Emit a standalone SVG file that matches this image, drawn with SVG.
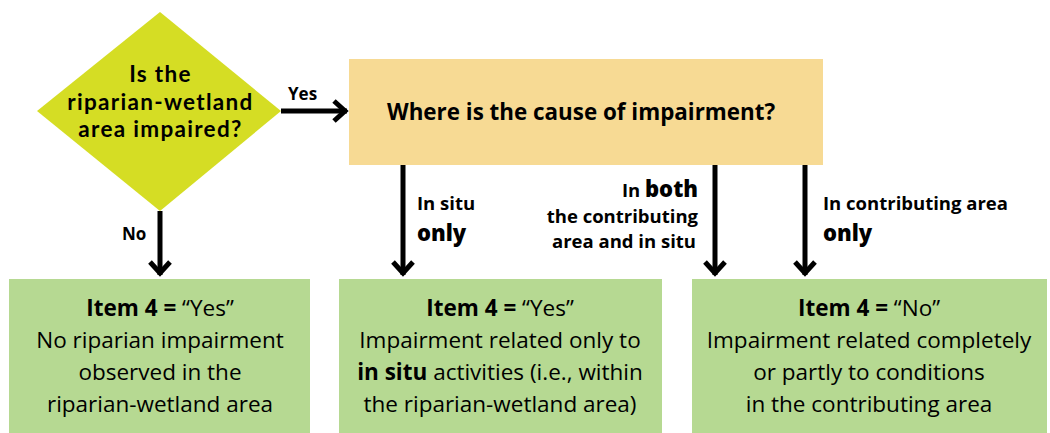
<svg xmlns="http://www.w3.org/2000/svg" width="1050" height="433" viewBox="0 0 1050 433">
<defs>
<style>
.t{font-family:"Open Sans","Noto Sans","Liberation Sans",sans-serif;fill:#000;}
.d{font-family:Lato,"Open Sans","Liberation Sans",sans-serif;font-weight:700;font-size:22.5px;letter-spacing:1.3px;fill:#000;}
.b{font-weight:700;}
.lbl{font-size:18.5px;font-weight:700;}
.yn{font-size:17px;font-weight:700;}
.big{font-size:22px;font-weight:800;}
.box{font-size:22.5px;}
.conn{stroke:#000;stroke-width:5;fill:none;}
</style>
<marker id="ah" viewBox="-16 -14 18 28" refX="0" refY="0" markerWidth="18" markerHeight="28" markerUnits="userSpaceOnUse" orient="auto">
<path d="M-13,-10 L-2,0 L-13,10" fill="none" stroke="#000" stroke-width="5"/>
</marker>
</defs>
<rect width="1050" height="433" fill="#fff"/>
<g id="decision">
<polygon points="160,12 281,111 160,211 37,111" fill="#d5dd24"/>
<text class="d" x="160.5" y="82" text-anchor="middle">Is the</text>
<text class="d" x="160.5" y="109.5" text-anchor="middle">riparian-wetland</text>
<text class="d" x="160.5" y="137" text-anchor="middle">area impaired?</text>
</g>
<g id="cause">
<rect x="349" y="59" width="474" height="106" fill="#f7da94"/>
<text class="t b" x="387" y="120" font-size="22.4">Where is the cause of impairment?</text>
</g>
<g id="result1">
<rect x="9" y="279" width="301" height="154" fill="#b6d992"/>
<text class="t box" x="160" y="316" text-anchor="middle"><tspan font-weight="700">Item 4 =</tspan> “Yes”</text>
<text class="t box" x="160" y="348" text-anchor="middle">No riparian impairment</text>
<text class="t box" x="160" y="380" text-anchor="middle">observed in the</text>
<text class="t box" x="160" y="412" text-anchor="middle">riparian-wetland area</text>
</g>
<g id="result2">
<rect x="339" y="279" width="323" height="154" fill="#b6d992"/>
<text class="t box" x="500" y="316" text-anchor="middle"><tspan font-weight="700">Item 4 =</tspan> “Yes”</text>
<text class="t box" x="500" y="348" text-anchor="middle">Impairment related only to</text>
<text class="t box" x="500" y="380" text-anchor="middle"><tspan font-weight="700">in situ</tspan> activities (i.e., within</text>
<text class="t box" x="500" y="412" text-anchor="middle">the riparian-wetland area)</text>
</g>
<g id="result3">
<rect x="692" y="279" width="355" height="154" fill="#b6d992"/>
<text class="t box" x="869" y="316" text-anchor="middle"><tspan font-weight="700">Item 4 =</tspan> “No”</text>
<text class="t box" x="869" y="348" text-anchor="middle">Impairment related completely</text>
<text class="t box" x="869" y="380" text-anchor="middle">or partly to conditions</text>
<text class="t box" x="869" y="412" text-anchor="middle">in the contributing area</text>
</g>
<g id="connectors">
<line class="conn" x1="281" y1="111" x2="347" y2="111" marker-end="url(#ah)"/>
<line class="conn" x1="160" y1="211" x2="160" y2="275" marker-end="url(#ah)"/>
<line class="conn" x1="403" y1="165" x2="403" y2="275" marker-end="url(#ah)"/>
<line class="conn" x1="715" y1="165" x2="715" y2="275" marker-end="url(#ah)"/>
<line class="conn" x1="805" y1="165" x2="805" y2="275" marker-end="url(#ah)"/>
<text class="t yn" x="288" y="100">Yes</text>
<text class="t yn" x="122" y="240">No</text>
<text class="t lbl" x="417" y="210">In situ</text>
<text class="t big" x="417" y="241">only</text>
<text class="t lbl" x="698" y="197" text-anchor="end">In <tspan class="big">both</tspan></text>
<text class="t lbl" x="698" y="223" text-anchor="end">the contributing</text>
<text class="t lbl" x="696" y="248" text-anchor="end">area and in situ</text>
<text class="t lbl" x="823" y="210">In contributing area</text>
<text class="t big" x="823" y="241">only</text>
</g>
</svg>
